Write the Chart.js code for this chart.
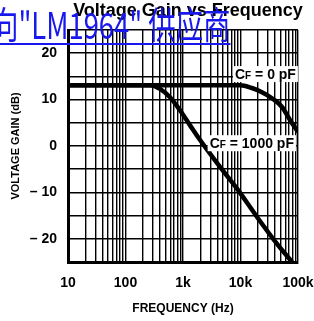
<!DOCTYPE html>
<html><head><meta charset="utf-8">
<script src="https://cdn.jsdelivr.net/npm/chart.js@4"></script>
<style>
html,body{margin:0;padding:0;background:#fff;overflow:hidden}
#wrap{position:relative;width:314px;height:321px;overflow:hidden}
canvas{display:block}
#wm{position:absolute;left:-9px;top:1px;font-family:"Noto Sans CJK SC";font-size:37px;color:#1717ee;white-space:nowrap;transform-origin:0 0;transform:scaleX(0.74);text-decoration:underline;text-decoration-thickness:2px;text-underline-offset:4px;line-height:1.2}
</style></head>
<body><div id="wrap"><canvas id="c" width="314" height="321"></canvas><div id="wm">向"LM1964" 供应商</div></div>
<script>
// ---- data ----
const freqCf0   = [10, 100, 1000, 9800, 15800, 23600, 35300, 52700, 72600, 100000];
const gainCf0   = [13.1, 13.1, 13.1, 13.1, 12.5, 11.6, 10.3, 8.4, 5.6, 3.0];
const freqCf1000 = [10, 100, 267, 398, 594, 887, 1320, 1980, 4400, 8700, 19400, 43200, 78700];
const gainCf1000 = [13.1, 13.1, 13.1, 12.3, 10.5, 7.7, 4.5, 1.3, -4.5, -9.2, -15.3, -21.1, -25];
const seriesLabels = ['0 pF', '1000 pF'];
const xTickValues = [10, 100, 1000, 10000, 100000];
const xTickLabels = ['10', '100', '1k', '10k', '100k'];
const yTickValues = [20, 10, 0, -10, -20];
const yTickLabels = ['20', '10', '0', '– 10', '– 20'];
const chartTitle = 'Voltage Gain vs Frequency';
const xTitle = 'FREQUENCY (Hz)';
const yTitle = 'VOLTAGE GAIN (dB)';

const NARROW = '"Liberation Sans Narrow", "Liberation Sans", Arial, sans-serif';
const toPts = (xs, ys) => xs.map((x, i) => ({x, y: ys[i]}));

// label anchors (right edge, vertical centre) in data space
const labelAnchors = [{x: 92000, y: 15.5}, {x: 85000, y: 0.6}];

const overlay = {
  id: 'overlay',
  afterDraw(chart) {
    const ctx = chart.ctx;
    ctx.save();
    ctx.fillStyle = '#000';
    ctx.font = 'bold 18px "Liberation Sans", Arial, sans-serif';
    ctx.textAlign = 'center';
    ctx.textBaseline = 'alphabetic';
    ctx.fillText(chartTitle, 188, 16);
    const xs = chart.scales.x, ys = chart.scales.y;
    seriesLabels.forEach((rest, i) => {
      const a = labelAnchors[i];
      const rx = xs.getPixelForValue(a.x), cy = ys.getPixelForValue(a.y);
      const big = 'bold 14px ' + NARROW, small = 'bold 10px ' + NARROW;
      ctx.font = big; const wC = ctx.measureText('C').width;
      ctx.font = small; const wF = ctx.measureText('F').width;
      ctx.font = big; const wR = ctx.measureText(' = ' + rest).width;
      const w = wC + wF + wR;
      const lx = rx - w;
      ctx.fillStyle = '#fff';
      ctx.fillRect(lx - 2, cy - 8, w + 4, 16);
      ctx.fillStyle = '#000';
      ctx.textAlign = 'left';
      ctx.textBaseline = 'alphabetic';
      ctx.font = big; ctx.fillText('C', lx, cy + 5);
      ctx.font = small; ctx.fillText('F', lx + wC, cy + 5);
      ctx.font = big; ctx.fillText(' = ' + rest, lx + wC + wF, cy + 5);
    });
    ctx.restore();
  }
};

new Chart(document.getElementById('c'), {
  type: 'line',
  data: {
    datasets: [
      {label: 'CF = ' + seriesLabels[0], data: toPts(freqCf0, gainCf0)},
      {label: 'CF = ' + seriesLabels[1], data: toPts(freqCf1000, gainCf1000)}
    ]
  },
  options: {
    responsive: false,
    animation: false,
    devicePixelRatio: 1,
    layout: {padding: {top: 30, right: 16, left: 0, bottom: 0}},
    elements: {
      line: {borderColor: '#000', borderWidth: 4.5, cubicInterpolationMode: 'monotone', fill: false},
      point: {radius: 0, hoverRadius: 0}
    },
    plugins: {legend: {display: false}, title: {display: false}, tooltip: {enabled: false}},
    scales: {
      x: {
        type: 'logarithmic', min: 10, max: 100000, position: 'bottom',
        afterBuildTicks(s) {
          const t = [];
          for (let d = 10; d < 100000; d *= 10) for (let m = 1; m <= 9; m++) t.push({value: m * d});
          t.push({value: 100000});
          s.ticks = t;
        },
        afterFit(s) { s.height = 59; s.paddingLeft = 0; s.paddingRight = 0; },
        grid: {color: '#000', lineWidth: 1.4, drawTicks: false},
        border: {color: '#000', width: 3},
        ticks: {
          autoSkip: false, maxRotation: 0, minRotation: 0, padding: 13, color: '#000',
          font: {family: NARROW, size: 14, weight: 'bold'},
          callback(v) { const i = xTickValues.indexOf(v); return i >= 0 ? xTickLabels[i] : ''; }
        },
        title: {display: true, text: xTitle, color: '#000', font: {family: NARROW, size: 12, weight: 'bold'}, padding: {top: 0, bottom: 5}}
      },
      y: {
        min: -25, max: 25,
        afterFit(s) { s.width = 68; s.paddingTop = 0; s.paddingBottom = 0; },
        grid: {color: '#000', lineWidth: 1.6, drawTicks: false},
        border: {color: '#000', width: 3},
        ticks: {
          stepSize: 5, autoSkip: false, padding: 11, color: '#000',
          font: {family: NARROW, size: 14, weight: 'bold'},
          callback(v) { const i = yTickValues.indexOf(v); return i >= 0 ? yTickLabels[i] : ''; }
        },
        title: {display: true, text: yTitle, color: '#000', font: {family: NARROW, size: 11, weight: 'bold'}, padding: {top: 9, bottom: 0}}
      }
    }
  },
  plugins: [overlay]
});
</script>
</body></html>
